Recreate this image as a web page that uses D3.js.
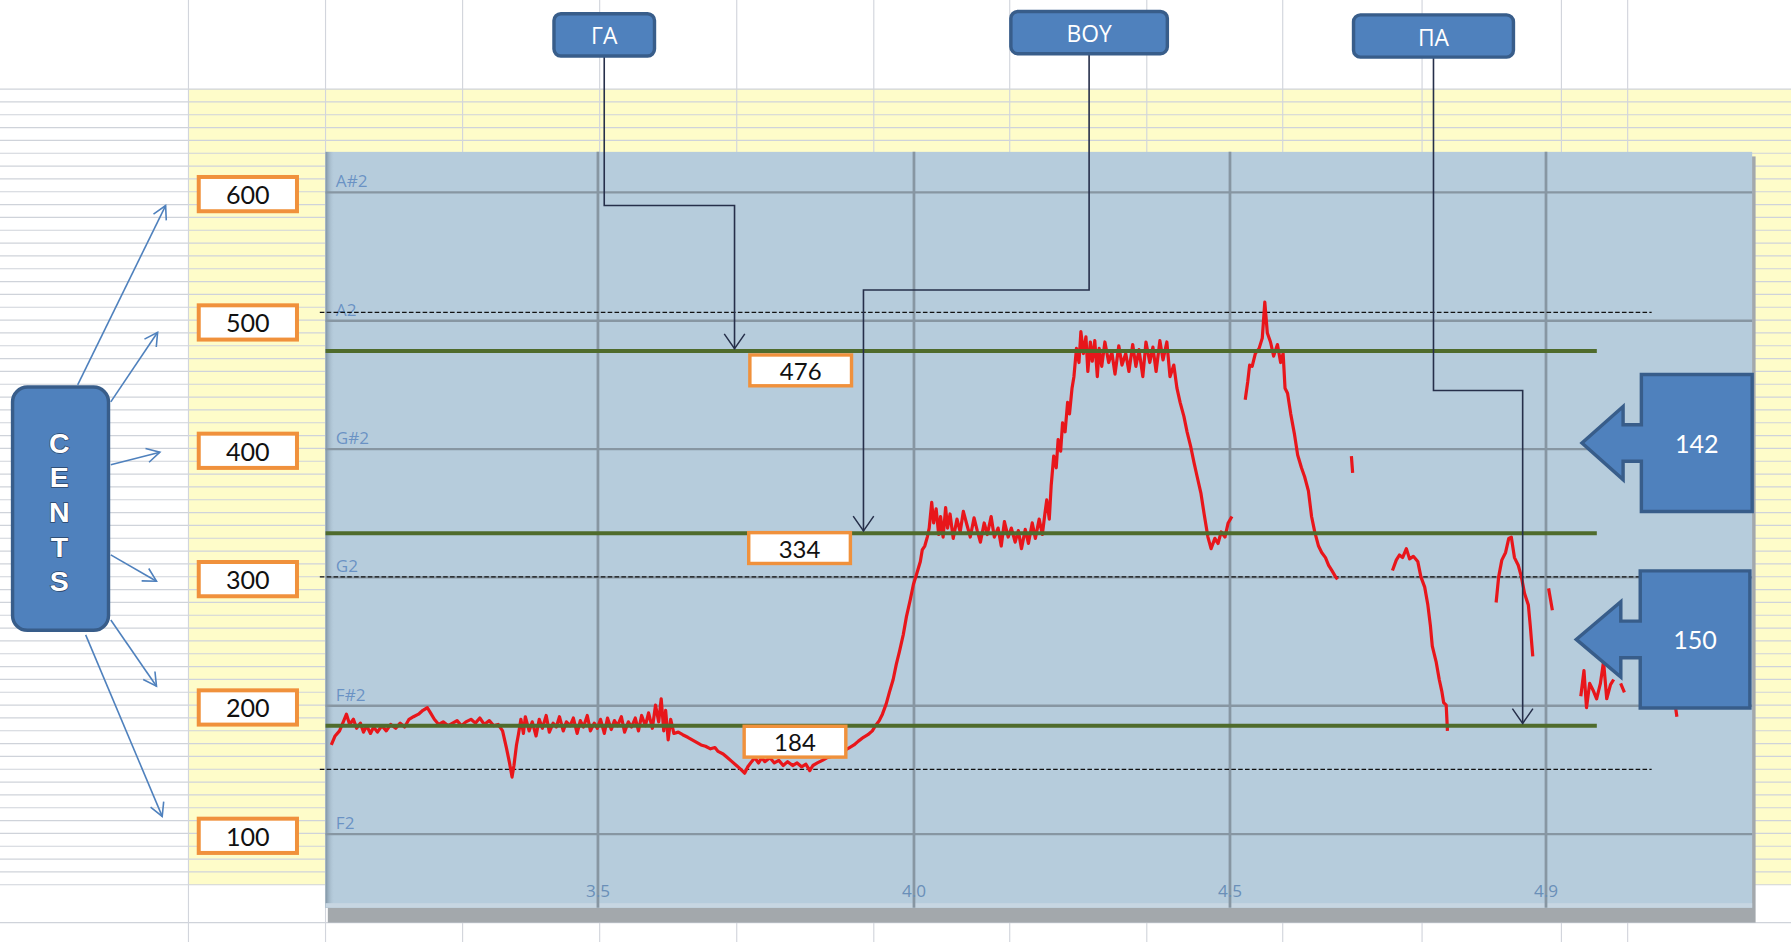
<!DOCTYPE html>
<meta charset="utf-8">
<script src="https://d3js.org/d3.v7.min.js"></script>
<style>
  body { margin: 0; background: #fff; }
  svg { display: block; }
</style>
<div id="chart"></div>
<script>

// ---- data ----
const noteNames = ["A#2", "A2", "G#2", "G2", "F#2", "F2"];
const noteCents = [600, 500, 400, 300, 200, 100];
const centLabels = [600, 500, 400, 300, 200, 100];
const xTickValues = [3.5, 4.0, 4.5, 5.0];
const xTickLabels = ["3.5", "4.0", "4.5", "4.9"];
const levelCents = [476, 334, 184];
const dashedCents = [506, 300, 150];
const syllables = ["ΓΑ", "ΒΟΥ", "ΠΑ"];
const syllableTimes = [3.717, 3.921, 4.964];
const intervalValues = [142, 150];
const centsLetters = ["C", "E", "N", "T", "S"];

// pitch track: [time (s), cents], null = unvoiced gap
const pitchTrack = [
  [3.079,169],[3.085,176],[3.092,180],[3.098,187],[3.103,193],[3.108,185],[3.114,189],[3.119,182],
  [3.125,186],[3.130,179],[3.135,184],[3.141,178],[3.146,183],[3.152,179],[3.159,184],[3.166,180],
  [3.173,185],[3.181,182],[3.188,186],[3.195,183],[3.202,189],[3.209,191],[3.217,193],[3.224,196],
  [3.231,198],[3.236,194],[3.242,189],[3.249,185],[3.256,187],[3.264,184],[3.271,186],[3.278,188],
  [3.285,184],[3.292,187],[3.300,189],[3.307,186],[3.314,190],[3.321,185],[3.329,188],[3.336,184],
  [3.343,185],[3.350,180],[3.356,167],[3.361,155],[3.365,144],[3.368,153],[3.372,169],[3.375,177],
  [3.379,189],[3.383,178],[3.386,191],[3.392,180],[3.397,187],[3.403,176],[3.408,189],[3.413,182],
  [3.419,192],[3.424,179],[3.430,186],[3.435,183],[3.440,191],[3.446,180],[3.451,187],[3.457,184],
  [3.462,190],[3.468,178],[3.473,188],[3.478,183],[3.484,192],[3.489,180],[3.495,186],[3.500,182],
  [3.505,189],[3.511,178],[3.516,190],[3.522,181],[3.527,188],[3.532,184],[3.538,191],[3.543,179],
  [3.549,187],[3.554,183],[3.560,190],[3.565,180],[3.570,192],[3.576,184],[3.581,194],[3.587,182],
  [3.592,200],[3.597,187],[3.601,205],[3.605,180],[3.608,196],[3.612,173],[3.616,189],[3.621,178],
  [3.628,179],[3.635,177],[3.643,175],[3.650,173],[3.657,171],[3.664,169],[3.671,168],[3.679,166],
  [3.686,167],[3.691,164],[3.699,162],[3.706,159],[3.713,156],[3.720,153],[3.727,150],[3.733,147],
  [3.738,152],[3.744,156],[3.749,159],[3.755,155],[3.760,159],[3.765,156],[3.773,159],[3.780,155],
  [3.787,157],[3.794,153],[3.801,156],[3.809,153],[3.816,155],[3.823,152],[3.830,154],[3.836,149],
  [3.841,153],[3.848,155],[3.856,157],[3.863,159],[3.870,160],[3.877,162],[3.884,163],[3.892,165],
  [3.899,167],[3.906,169],[3.913,172],[3.921,175],[3.928,177],[3.935,180],[3.940,184],[3.946,188],
  [3.951,193],[3.957,201],[3.962,210],[3.968,220],[3.973,232],[3.978,242],[3.984,255],[3.989,269],
  [3.995,282],[4.000,294],[4.005,302],[4.011,312],[4.014,321],[4.018,324],[4.022,331],[4.025,338],
  [4.029,358],[4.032,342],[4.036,353],[4.040,333],[4.043,347],[4.047,331],[4.051,354],[4.054,338],
  [4.058,349],[4.063,330],[4.069,345],[4.074,335],[4.079,351],[4.085,340],[4.090,331],[4.096,346],
  [4.101,336],[4.106,327],[4.112,342],[4.117,333],[4.123,347],[4.128,331],[4.134,338],[4.139,324],
  [4.144,343],[4.150,331],[4.155,338],[4.161,327],[4.166,336],[4.171,322],[4.177,337],[4.182,326],
  [4.188,342],[4.193,330],[4.199,345],[4.204,333],[4.208,349],[4.211,360],[4.215,345],[4.218,371],
  [4.222,394],[4.226,385],[4.229,407],[4.233,398],[4.236,420],[4.240,413],[4.244,436],[4.247,427],
  [4.251,447],[4.254,456],[4.258,478],[4.262,467],[4.265,491],[4.269,474],[4.273,487],[4.276,460],
  [4.280,483],[4.283,468],[4.287,484],[4.291,456],[4.294,478],[4.298,464],[4.303,483],[4.309,467],
  [4.314,475],[4.319,458],[4.325,480],[4.330,465],[4.336,474],[4.341,460],[4.347,481],[4.352,464],
  [4.357,477],[4.363,456],[4.368,483],[4.374,467],[4.379,479],[4.384,460],[4.390,484],[4.395,469],
  [4.401,483],[4.406,456],[4.412,465],[4.417,447],[4.422,436],[4.428,425],[4.433,413],[4.439,401],
  [4.444,389],[4.449,378],[4.455,365],[4.460,349],[4.466,331],[4.471,322],[4.477,330],[4.482,326],
  [4.487,335],[4.493,331],[4.498,342],[4.504,347],
  null,
  [4.525,438],[4.529,452],[4.532,465],[4.536,464],[4.541,474],[4.547,478],[4.552,486],[4.556,514],
  [4.560,490],[4.565,483],[4.570,472],[4.576,481],[4.581,467],[4.585,474],[4.588,447],[4.592,443],
  [4.597,427],[4.603,411],[4.608,395],[4.614,385],[4.619,378],[4.625,367],[4.630,347],[4.635,335],
  [4.641,324],[4.646,319],[4.652,315],[4.657,309],[4.662,305],[4.668,300],[4.671,298],
  null,
  [4.693,394],[4.695,381],
  null,
  [4.758,305],[4.764,313],[4.769,317],[4.774,315],[4.780,322],[4.785,314],[4.791,316],[4.798,312],
  [4.803,300],[4.809,292],[4.814,278],[4.818,262],[4.821,246],[4.827,234],[4.832,220],[4.836,211],
  [4.839,202],[4.843,200],[4.845,180],
  null,
  [4.922,280],[4.926,300],[4.931,313],[4.937,319],[4.942,330],[4.946,331],[4.951,315],[4.957,309],
  [4.962,300],[4.967,287],[4.973,278],[4.976,262],[4.980,238],
  null,
  [5.005,291],[5.011,274],
  null,
  [5.056,207],[5.061,227],[5.065,198],[5.070,217],[5.076,211],[5.081,205],[5.087,217],[5.092,234],
  [5.097,205],[5.103,216],[5.108,220],
  null,
  [5.119,217],[5.125,210],
  null,
  [5.206,198],[5.208,191],
  null,
  [5.314,216],[5.318,202]
];

// ---- layout (drawing units, scaled to 1791x942) ----
const VW = 1568, VH = 825;
const plot = {left: 285, right: 1534, top: 133, bottom: 795};
const sheetYellow = {x: 165, y: 78, bottom: 775};
const colXs = [165, 285, 405, 525, 645, 765, 884, 1004, 1123, 1245, 1367, 1425];

const blue = "#4f81bd", blueDark = "#385d8a", orange = "#f0913c";
const green = "#4f6b2c", red = "#e8161b", navy = "#262f4a";

const svg = d3.select("#chart").append("svg")
    .attr("width", 1791)
    .attr("height", 942)
    .attr("viewBox", `0 0 ${VW} ${VH}`)
    .attr("preserveAspectRatio", "none");

const defs = svg.append("defs");
const lg = defs.append("linearGradient").attr("id", "edgeShade");
lg.append("stop").attr("offset", "0%").attr("stop-color", "#7f93a3");
lg.append("stop").attr("offset", "100%").attr("stop-color", "#b6ccdc").attr("stop-opacity", 0);

// spreadsheet background
svg.append("rect").attr("width", VW).attr("height", VH).attr("fill", "#fff");
svg.append("rect")
    .attr("x", sheetYellow.x).attr("y", sheetYellow.y)
    .attr("width", VW - sheetYellow.x).attr("height", sheetYellow.bottom - sheetYellow.y)
    .attr("fill", "#fefcc9");

svg.append("g").selectAll("line")
  .data(d3.range(sheetYellow.y, sheetYellow.bottom + 1, 11.24).concat([808]))
  .join("line")
    .attr("x1", 0).attr("x2", VW)
    .attr("y1", d => d).attr("y2", d => d)
    .attr("stroke", "#cfd3da").attr("stroke-width", 1);

svg.append("g").selectAll("line")
  .data(colXs)
  .join("line")
    .attr("x1", d => d).attr("x2", d => d)
    .attr("y1", 0).attr("y2", VH)
    .attr("stroke", "#d2d5dc").attr("stroke-width", 1);

// plot panel with shadow
svg.append("rect")
    .attr("x", plot.left + 2).attr("y", plot.top + 4)
    .attr("width", plot.right - plot.left + 1).attr("height", plot.bottom - plot.top + 9)
    .attr("fill", "#a3a8ac");
svg.append("rect")
    .attr("x", plot.left).attr("y", plot.top)
    .attr("width", plot.right - plot.left).attr("height", plot.bottom - plot.top)
    .attr("fill", "#b6ccdc");
svg.append("rect")
    .attr("x", plot.left).attr("y", plot.top)
    .attr("width", 8).attr("height", plot.bottom - plot.top)
    .attr("fill", "url(#edgeShade)");
svg.append("rect")
    .attr("x", plot.left).attr("y", plot.bottom - 4)
    .attr("width", plot.right - plot.left).attr("height", 4)
    .attr("fill", "#c7d6e2");

// scales
const x = d3.scaleLinear().domain([3.5, 5.0]).range([523, 1353]);
const y = d3.scaleLinear().domain([100, 600]).range([730, 168]);

// semitone grid (y axis)
const gy = svg.append("g")
    .attr("transform", `translate(${plot.left},0)`)
    .call(d3.axisLeft(y)
      .tickValues(noteCents)
      .tickFormat((d, i) => noteNames[i])
      .tickSize(-(plot.right - plot.left))
      .tickSizeOuter(0));
gy.select(".domain").remove();
gy.selectAll(".tick line").attr("stroke", "#8796a2").attr("stroke-width", 2);
gy.selectAll(".tick text")
    .attr("x", 9).attr("dy", "-0.3em")
    .attr("text-anchor", "start")
    .attr("fill", "#5c88c0").attr("fill-opacity", 0.85)
    .style("font-family", "'Open Sans', 'DejaVu Sans', sans-serif")
    .style("font-size", "15px");

// time grid (x axis)
const gx = svg.append("g")
    .attr("transform", `translate(0,${plot.bottom})`)
    .call(d3.axisBottom(x)
      .tickValues(xTickValues)
      .tickFormat((d, i) => xTickLabels[i])
      .tickSize(-(plot.bottom - plot.top))
      .tickSizeOuter(0));
gx.select(".domain").remove();
gx.selectAll(".tick line").attr("stroke", "#8796a2").attr("stroke-width", 2.4);
gx.selectAll(".tick text")
    .attr("y", -9).attr("dy", 0)
    .attr("fill", "#6a8fb8")
    .style("font-family", "'Open Sans', 'DejaVu Sans', sans-serif")
    .style("font-size", "15px");
gx.selectAll(".tick").raise();

// dashed reference lines
svg.append("g").selectAll("line")
  .data(dashedCents)
  .join("line")
    .attr("x1", plot.left - 5).attr("x2", 1446)
    .attr("y1", d => y(d)).attr("y2", d => y(d))
    .attr("stroke", "#111").attr("stroke-width", 1.1)
    .attr("stroke-dasharray", "4,2");

// pitch curve
const line = d3.line()
    .defined(d => d !== null)
    .x(d => x(d[0]))
    .y(d => y(d[1]));
svg.append("path")
    .datum(pitchTrack)
    .attr("d", line)
    .attr("fill", "none")
    .attr("stroke", red)
    .attr("stroke-width", 2.8)
    .attr("stroke-linejoin", "round");

// green level lines
svg.append("g").selectAll("line")
  .data(levelCents)
  .join("line")
    .attr("x1", plot.left).attr("x2", 1398)
    .attr("y1", d => y(d)).attr("y2", d => y(d))
    .attr("stroke", green).attr("stroke-width", 3.5);

// orange boxed values
function valueBox(g, cx, cy, w, h, txt, sw, fs) {
  g.append("rect")
      .attr("x", cx - w / 2).attr("y", cy - h / 2)
      .attr("width", w).attr("height", h)
      .attr("fill", "#fff").attr("stroke", orange).attr("stroke-width", sw);
  g.append("text")
      .attr("x", cx).attr("y", cy)
      .attr("text-anchor", "middle").attr("dominant-baseline", "central")
      .attr("fill", "#111")
      .style("font-family", "Lato, 'Open Sans', sans-serif")
      .style("font-size", fs + "px")
      .text(txt);
}
const boxes = svg.append("g");
centLabels.forEach(v => valueBox(boxes, 217, y(v) + 2, 86, 30, v, 3.5, 22));
const levelLabelX = [701, 700, 696];
const levelLabelDy = [17, 13, 14];
levelCents.forEach((v, i) => valueBox(boxes, levelLabelX[i], y(v) + levelLabelDy[i], 89, 27, v, 3, 21));

// syllable callouts and connectors
const sylBoxes = [
  {x: 485, y: 12, w: 88, h: 37, elbow: 180},
  {x: 885, y: 10, w: 137, h: 37, elbow: 254},
  {x: 1185, y: 13, w: 140, h: 37, elbow: 342}
];
const conn = svg.append("g");
syllables.forEach((s, i) => {
  const b = sylBoxes[i];
  const cx = b.x + b.w / 2;
  const tx = x(syllableTimes[i]);
  const ty = y(levelCents[i]) - 2;
  conn.append("path")
      .attr("d", `M${cx},${b.y + b.h}V${b.elbow}H${tx}V${ty}`)
      .attr("fill", "none").attr("stroke", navy).attr("stroke-width", 1.4);
  conn.append("path")
      .attr("d", `M${tx - 9},${ty - 13}L${tx},${ty}L${tx + 9},${ty - 13}`)
      .attr("fill", "none").attr("stroke", navy).attr("stroke-width", 1.3);
  conn.append("rect")
      .attr("x", b.x).attr("y", b.y).attr("width", b.w).attr("height", b.h)
      .attr("rx", 6)
      .attr("fill", blue).attr("stroke", blueDark).attr("stroke-width", 3);
  conn.append("text")
      .attr("x", cx).attr("y", b.y + b.h / 2 + 1)
      .attr("text-anchor", "middle").attr("dominant-baseline", "central")
      .attr("fill", "#fff")
      .style("font-family", "'Open Sans', 'Noto Sans', sans-serif")
      .style("font-size", "20px")
      .text(s);
});

// CENTS box with arrows
const centsArrows = [
  [68, 337, 145, 180],
  [97, 352, 138, 291],
  [97, 407, 140, 396],
  [97, 486, 137, 509],
  [97, 543, 137, 601],
  [75, 556, 142, 715]
];
const ca = svg.append("g");
centsArrows.forEach(([x1, y1, x2, y2]) => {
  const ang = Math.atan2(y2 - y1, x2 - x1);
  const L = 13, a = 0.5;
  ca.append("line")
      .attr("x1", x1).attr("y1", y1).attr("x2", x2).attr("y2", y2)
      .attr("stroke", blue).attr("stroke-width", 1.4);
  ca.append("path")
      .attr("d", `M${x2 - L * Math.cos(ang - a)},${y2 - L * Math.sin(ang - a)}L${x2},${y2}L${x2 - L * Math.cos(ang + a)},${y2 - L * Math.sin(ang + a)}`)
      .attr("fill", "none").attr("stroke", blue).attr("stroke-width", 1.4);
});
ca.append("rect")
    .attr("x", 11).attr("y", 339).attr("width", 84).attr("height", 213)
    .attr("rx", 13)
    .attr("fill", blue).attr("stroke", blueDark).attr("stroke-width", 3);
const letterY = [388, 418, 448, 479, 509];
ca.selectAll("text.letter")
  .data(centsLetters)
  .join("text")
    .attr("class", "letter")
    .attr("x", 52).attr("y", (d, i) => letterY[i])
    .attr("text-anchor", "middle").attr("dominant-baseline", "central")
    .attr("fill", "#fff").attr("stroke", "#2a4468").attr("stroke-width", 1.2)
    .attr("paint-order", "stroke")
    .style("font-family", "'Liberation Sans', Arial, sans-serif")
    .style("font-weight", "bold")
    .style("font-size", "25px")
    .text(d => d);

// interval block arrows
const blocks = [
  {l: 1437, r: 1534, t: 328, b: 448, tip: 1385, base: 1421, mid: 388, hh: 32, sh: 16},
  {l: 1436, r: 1532, t: 500, b: 620, tip: 1380, base: 1419, mid: 560, hh: 33, sh: 16}
];
intervalValues.forEach((v, i) => {
  const k = blocks[i];
  const d = `M${k.r},${k.t}L${k.l},${k.t}L${k.l},${k.mid - k.sh}L${k.base},${k.mid - k.sh}` +
            `L${k.base},${k.mid - k.hh}L${k.tip},${k.mid}L${k.base},${k.mid + k.hh}` +
            `L${k.base},${k.mid + k.sh}L${k.l},${k.mid + k.sh}L${k.l},${k.b}L${k.r},${k.b}Z`;
  svg.append("path").attr("d", d)
      .attr("fill", blue).attr("stroke", blueDark).attr("stroke-width", 3);
  svg.append("text")
      .attr("x", (k.l + k.r) / 2).attr("y", k.mid)
      .attr("text-anchor", "middle").attr("dominant-baseline", "central")
      .attr("fill", "#fff")
      .style("font-family", "Lato, 'Open Sans', sans-serif")
      .style("font-size", "22px")
      .text(v);
});

</script>
